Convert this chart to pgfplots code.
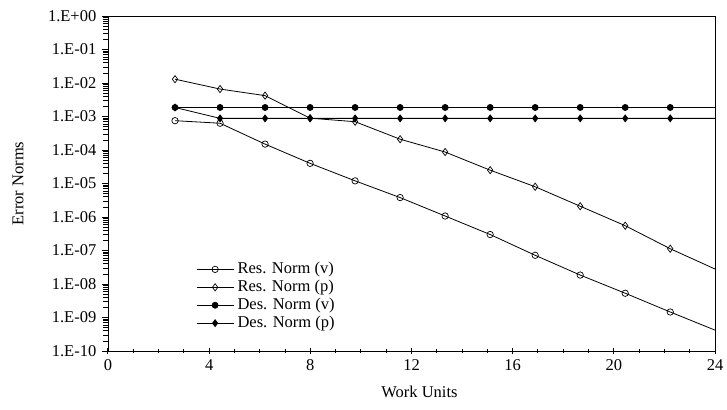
\documentclass[border=0pt]{standalone}
\usepackage{fontspec}
\setmainfont{Liberation Serif}
\usepackage{pgfplots}
\pgfplotsset{compat=1.18}
\begin{document}%
\fontsize{16.5bp}{19bp}\selectfont%
\begin{tikzpicture}
\begin{axis}[
  scale only axis,
  width=607bp, height=335bp,
  xmin=0, xmax=24,
  ymode=log, ymin=1e-10, ymax=1,
  xtick={0,4,8,12,16,20,24},
  minor x tick num=3,
  ytick={1e-10,1e-9,1e-8,1e-7,1e-6,1e-5,1e-4,1e-3,1e-2,1e-1,1},
  log identify minor tick positions=true,
  yticklabels={1.E-10,1.E-09,1.E-08,1.E-07,1.E-06,1.E-05,1.E-04,1.E-03,1.E-02,1.E-01,1.E+00},
  /pgf/number format/assume math mode=true,
  xtick pos=bottom, ytick pos=left,
  xtick align=center, ytick align=outside,
  major tick length=6bp, minor tick length=4.5bp,
  tick style={black, line width=1bp},
  minor y tick style={black, line width=0.8bp},
  axis line style={line width=0.8bp},
  xlabel={Work Units},
  ylabel={Error Norms},
  xlabel style={at={(axis description cs:0.5,-0.122)}, anchor=center, xshift=8bp},
  ylabel style={at={(axis description cs:-0.148,0.5)}, anchor=center},
  legend cell align=left,
  legend style={at={(axis description cs:0.145,0.268)}, anchor=north west, draw=none, fill=none, inner sep=0pt, nodes={inner sep=1bp}, row sep=2bp, column sep=2.5bp},
  legend image code/.code={\draw[mark repeat=2,mark phase=2,#1] plot coordinates {(0bp,0bp)(18.5bp,0bp)(37bp,0bp)};},
  every axis plot/.append style={black, line width=0.8bp},
]
\addplot[mark=o, mark size=3.2bp, mark indices={1,...,12}, forget plot, mark options={line width=0.7bp}] coordinates {
(2.65,7.5e-4)(4.43,6.3e-4)(6.21,1.5e-4)(7.99,4.0e-5)(9.77,1.2e-5)(11.55,3.8e-6)(13.33,1.07e-6)(15.11,3.0e-7)(16.89,7.2e-8)(18.67,1.85e-8)(20.45,5.3e-9)(22.23,1.46e-9)(24,4.2e-10)};
\addplot[mark=diamond, mark size=3.6bp, mark indices={1,...,12}, forget plot, mark options={line width=0.7bp}] coordinates {
(2.65,1.3e-2)(4.43,6.6e-3)(6.21,4.2e-3)(7.99,8.9e-4)(9.77,7.0e-4)(11.55,2.1e-4)(13.33,8.7e-5)(15.11,2.5e-5)(16.89,8.0e-6)(18.67,2.1e-6)(20.45,5.5e-7)(22.23,1.13e-7)(24,2.8e-8)};
\addplot[mark=*, mark size=3bp, mark indices={1,...,12}, forget plot] coordinates {
(2.65,1.86e-3)(4.43,1.86e-3)(6.21,1.86e-3)(7.99,1.86e-3)(9.77,1.86e-3)(11.55,1.86e-3)(13.33,1.86e-3)(15.11,1.86e-3)(16.89,1.86e-3)(18.67,1.86e-3)(20.45,1.86e-3)(22.23,1.86e-3)(24,1.86e-3)};
\addplot[mark=diamond*, mark size=3.4bp, mark indices={1,...,12}, forget plot] coordinates {
(2.65,1.86e-3)(4.43,8.8e-4)(6.21,8.8e-4)(7.99,8.8e-4)(9.77,8.8e-4)(11.55,8.8e-4)(13.33,8.8e-4)(15.11,8.8e-4)(16.89,8.8e-4)(18.67,8.8e-4)(20.45,8.8e-4)(22.23,8.8e-4)(24,8.8e-4)};
\addlegendimage{black, line width=0.8bp, mark=o, mark size=3.2bp, mark options={line width=0.7bp}}
\addlegendentry{Res. Norm (v)}
\addlegendimage{black, line width=0.8bp, mark=diamond, mark size=3.6bp, mark options={line width=0.7bp}}
\addlegendentry{Res. Norm (p)}
\addlegendimage{black, line width=0.8bp, mark=*, mark size=3bp}
\addlegendentry{Des. Norm (v)}
\addlegendimage{black, line width=0.8bp, mark=diamond*, mark size=3.4bp}
\addlegendentry{Des. Norm (p)}
\end{axis}
\pgfresetboundingbox
\path[use as bounding box] ([shift={(-108bp,-59bp)}]current axis.south west) rectangle ([shift={(12bp,16bp)}]current axis.north east);
\end{tikzpicture}%
\end{document}
